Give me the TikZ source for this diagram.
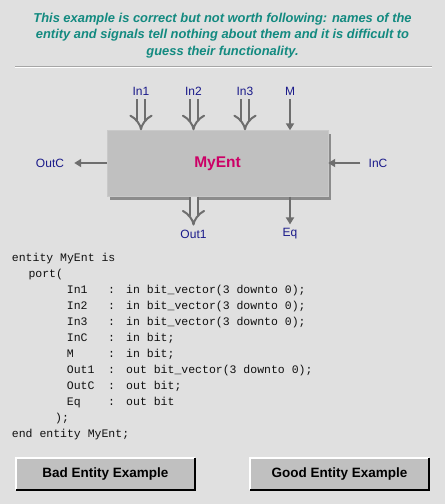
\documentclass[tikz,border=0pt]{standalone}
\usepackage{fontspec}
\setmainfont{Liberation Sans}
\newfontfamily\codefont{Liberation Mono}
\usetikzlibrary{arrows.meta,shadows}

\definecolor{bgcol}{HTML}{E0E0E0}
\definecolor{titlecol}{HTML}{138A80}
\definecolor{portcol}{HTML}{1A1A8A}
\definecolor{entcol}{HTML}{CC0066}
\definecolor{wirecol}{HTML}{6E6E6E}
\definecolor{boxcol}{HTML}{C0C0C0}
\definecolor{codecol}{HTML}{101010}

\begin{document}
\begin{tikzpicture}[x=1pt,y=-1pt,font=\fontsize{12}{14}\selectfont,
  port/.style={text=portcol,inner sep=1pt},
  entbox/.style={fill=boxcol,draw=boxcol!85!white,minimum width=221pt,minimum height=66pt,
    drop shadow={shadow xshift=3pt,shadow yshift=-3pt,fill=black!45,opacity=1},
    text=entcol,font=\bfseries\fontsize{15.5}{16}\selectfont},
  wire/.style={wirecol,line width=2.6pt,-{Triangle[length=7pt,width=8pt]}},
  bus/.style={wirecol,line width=2pt,double=bgcol,double distance=6pt,-{Implies}},
  code/.style={anchor=base west,inner sep=0pt,text=codecol,font=\codefont\fontsize{11.5}{11.5}\selectfont},
  button/.style={fill=boxcol,minimum width=179pt,minimum height=32pt,
    font=\bfseries\fontsize{13.5}{14}\selectfont}]

\fill[bgcol] (0,0) rectangle (445,504);

\node[text=titlecol,font=\bfseries\itshape\fontsize{12.9}{16.5}\selectfont,align=center] (title) at (222.5,35.5)
  {This example is correct but not worth following: names of the\\
   entity and signals tell nothing about them and it is difficult to\\
   guess their functionality.};
\draw[black!35] (15,66) -- (432,66);
\draw[white] (15,67) -- (432,67);

\node[entbox] (ent) at (217.5,163.5) {MyEnt};

\node[port] (in1) at (141,91) {In1};
\node[port] (in2) at (193.5,91) {In2};
\node[port] (in3) at (245,91) {In3};
\node[port] (m) at (290,91) {M};
\node[port] (outc) at (50,163) {OutC};
\node[port] (inc) at (378,163) {InC};
\node[port] (out1) at (193.5,234) {Out1};
\node[port] (eq) at (290,234) {Eq};

\foreach \p in {in1,in2,in3}
  \draw[bus,shorten <=3pt] (\p) -- (\p |- ent.north);
\draw[wire,shorten <=3pt] (m) -- (m |- ent.north);
\draw[wire,shorten >=9pt] (ent.west |- outc) -- (outc);
\draw[wire,shorten <=7pt] (inc) -- (inc -| ent.east);
\draw[bus,shorten >=3pt] (out1 |- ent.south) -- (out1);
\draw[wire,shorten >=3pt] (eq |- ent.south) -- (eq);

% vhdl text
\pgfmathsetmacro{\ystep}{16}
\node[code] (l0) at (11.7,261.5) {entity MyEnt is};
\node[code] (l1) at (28.3,277.5) {port(};
\foreach \nm/\ty [count=\i from 0] in {In1/in bit\_vector(3 downto 0);,In2/in bit\_vector(3 downto 0);,
    In3/in bit\_vector(3 downto 0);,InC/in bit;,M/in bit;,Out1/out bit\_vector(3 downto 0);,
    OutC/out bit;,Eq/out bit}{
  \node[code] (nm\i) at (66.7,293.5+\i*\ystep) {\nm};
  \node[code] (cl\i) at (108,293.5+\i*\ystep) {:};
  \node[code] (ty\i) at (126,293.5+\i*\ystep) {\ty};
}
\node[code] (l2) at (55,421.5) {);};
\node[code] (l3) at (11.7,437.5) {end entity MyEnt;};

\node[button] (bad) at (105.5,474) {Bad Entity Example};
\node[button] (good) at (339.5,474) {Good Entity Example};
\foreach \b in {bad,good}{
  \draw[white,line width=1.5pt] (\b.south west) |- (\b.north east);
  \draw[black,line width=1.5pt] (\b.south west) -| (\b.north east);
}

\end{tikzpicture}
\end{document}
